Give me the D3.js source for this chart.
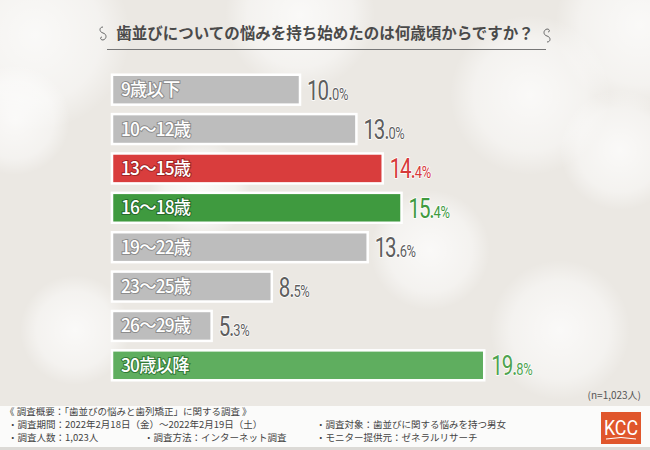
<!DOCTYPE html>
<html>
<head>
<meta charset="utf-8">
<script src="https://cdn.jsdelivr.net/npm/d3@7"></script>
<style>
  html, body { margin: 0; padding: 0; background: #fff; }
  svg { display: block; }
</style>
</head>
<body>
<div id="chart"></div>
<script>
var categories = ["9歳以下", "10〜12歳", "13〜15歳", "16〜18歳", "19〜22歳", "23〜25歳", "26〜29歳", "30歳以降"];
var values = [10.0, 13.0, 14.4, 15.4, 13.6, 8.5, 5.3, 19.8];
var highlight = ["gray", "gray", "red", "green", "gray", "gray", "gray", "lightgreen"];

var title = "歯並びについての悩みを持ち始めたのは何歳頃からですか？";
var sampleNote = "(n=1,023人)";
var footerLines = [
    ["《 調査概要：「歯並びの悩みと歯列矯正」に関する調査 》", 5, 415],
    ["・調査期間：2022年2月18日（金）〜2022年2月19日（土）", 8, 428],
    ["・調査人数：1,023人", 8, 441],
    ["・調査方法：インターネット調査", 144, 441],
    ["・調査対象：歯並びに関する悩みを持つ男女", 316, 428],
    ["・モニター提供元：ゼネラルリサーチ", 316, 441]
];

var palette = {
    gray:       { fill: "#bdbdbd", text: "#5e5e5e", outline: "#8c8c8c" },
    red:        { fill: "#d93d3d", text: "#d63a3a", outline: "#9e2323" },
    green:      { fill: "#3f9a3f", text: "#3f9a3f", outline: "#25692a" },
    lightgreen: { fill: "#5fae5f", text: "#4fa34f", outline: "#327a36" }
};

var width = 650, height = 450;
var jp = "'Noto Sans CJK JP', 'Noto Sans', sans-serif";
var num = "Roboto, 'Noto Sans', sans-serif";

var svg = d3.select("#chart")
    .append("svg")
        .attr("width", width)
        .attr("height", height)
        .attr("xmlns", "http://www.w3.org/2000/svg")

var defs = svg.append("defs")

var glow = defs.append("radialGradient")
    .attr("id", "bokeh")
glow.append("stop").attr("offset", "0%").attr("stop-color", "#fff").style("stop-opacity", 0.75)
glow.append("stop").attr("offset", "70%").attr("stop-color", "#fff").style("stop-opacity", 0.45)
glow.append("stop").attr("offset", "100%").attr("stop-color", "#fff").style("stop-opacity", 0)

// background with soft circles
svg.append("rect")
    .attr("width", width)
    .attr("height", height)
    .attr("fill", "#ebe8e3")

var circles = [[35, 35, 95], [300, 15, 75], [640, 25, 85], [530, 95, 80], [620, 150, 60],
               [15, 120, 55], [75, 330, 55], [560, 330, 70], [430, 250, 60], [200, 190, 50]]
svg.append("g")
    .selectAll("circle")
    .data(circles)
    .join("circle")
        .attr("cx", function(d) { return d[0] })
        .attr("cy", function(d) { return d[1] })
        .attr("r", function(d) { return d[2] })
        .attr("fill", "url(#bokeh)")

// title
svg.append("text")
    .attr("x", 325)
    .attr("y", 39)
    .attr("text-anchor", "middle")
    .attr("font-family", jp)
    .attr("font-weight", "bold")
    .attr("font-size", 15.5)
    .attr("fill", "#4a4a4a")
    .text(title)

svg.append("line")
    .attr("x1", 107).attr("x2", 546)
    .attr("y1", 49.5).attr("y2", 49.5)
    .attr("stroke", "#777")
    .attr("stroke-width", 1)

var ornament = "M0,-7 C-4,-7 -4,-2 0,-1 C4,0 4,5 0,6 C-3,6 -3,3 -1,3"
svg.append("path")
    .attr("d", ornament)
    .attr("transform", "translate(103, 34)")
    .attr("fill", "none").attr("stroke", "#666").attr("stroke-width", 1)
svg.append("path")
    .attr("d", ornament)
    .attr("transform", "translate(547, 35) scale(-1, -1)")
    .attr("fill", "none").attr("stroke", "#666").attr("stroke-width", 1)

// bars
var x = d3.scaleLinear()
    .domain([0, 20])
    .range([112, 488])

var y = d3.scaleBand()
    .domain(categories)
    .range([70, 385])
    .paddingInner(0.24)
    .paddingOuter(0.12)

var rows = svg.append("g")
    .selectAll("g")
    .data(categories)
    .join("g")

rows.append("rect")
    .attr("x", x(0))
    .attr("y", function(d) { return y(d) })
    .attr("width", function(d, i) { return x(values[i]) - x(0) })
    .attr("height", y.bandwidth())
    .attr("fill", function(d, i) { return palette[highlight[i]].fill })
    .attr("stroke", "#fff")
    .attr("stroke-width", 2.5)

rows.append("text")
    .attr("transform", function(d) {
        return "translate(" + (x(0) + 9) + "," + (y(d) + y.bandwidth() / 2 + 6.5) + ") scale(0.96, 1)"
    })
    .attr("font-family", jp)
    .attr("font-weight", 500)
    .attr("font-size", 18)
    .attr("letter-spacing", -0.8)
    .attr("fill", "#fff")
    .attr("stroke", function(d, i) { return palette[highlight[i]].outline })
    .attr("stroke-width", 2)
    .attr("paint-order", "stroke")
    .text(function(d) { return d })

var valueLabels = rows.append("text")
    .attr("transform", function(d, i) {
        return "translate(" + (x(values[i]) + 7) + "," + (y(d) + y.bandwidth() / 2 + 10) + ") scale(0.76, 1)"
    })
    .attr("font-family", num)
    .attr("font-weight", 400)
    .attr("fill", function(d, i) { return palette[highlight[i]].text })
    .attr("stroke", "#fff")
    .attr("stroke-width", 1.6)
    .attr("paint-order", "stroke")

valueLabels.append("tspan")
    .attr("font-size", 27)
    .attr("letter-spacing", -1.5)
    .text(function(d, i) { return values[i].toFixed(1).split(".")[0] + "." })

valueLabels.append("tspan")
    .attr("font-size", 17)
    .attr("letter-spacing", -0.5)
    .text(function(d, i) { return values[i].toFixed(1).split(".")[1] + "%" })

svg.append("text")
    .attr("x", 641)
    .attr("y", 399)
    .attr("text-anchor", "end")
    .attr("font-family", jp)
    .attr("font-size", 10)
    .attr("fill", "#555")
    .text(sampleNote)

// footer
svg.append("rect")
    .attr("x", 0).attr("y", 406)
    .attr("width", width).attr("height", 41)
    .attr("fill", "#fbfbfa")
svg.append("rect")
    .attr("x", 0).attr("y", 447)
    .attr("width", width).attr("height", 3)
    .attr("fill", "#dcdad6")

svg.append("g")
    .selectAll("text")
    .data(footerLines)
    .join("text")
        .attr("x", function(d) { return d[1] })
        .attr("y", function(d) { return d[2] })
        .attr("font-family", jp)
        .attr("font-size", 9.5)
        .attr("fill", "#444")
        .text(function(d) { return d[0] })

var logo = svg.append("g")
    .attr("transform", "translate(601, 412)")
logo.append("rect")
    .attr("width", 40).attr("height", 32)
    .attr("fill", "#e0562c")
logo.append("text")
    .attr("transform", "translate(20, 23) scale(0.85, 1)")
    .attr("text-anchor", "middle")
    .attr("font-family", num)
    .attr("font-size", 21)
    .attr("fill", "#fff")
    .text("KCC")
logo.append("path")
    .attr("d", "M5,27 Q20,24 35,27")
    .attr("fill", "none").attr("stroke", "#fff").attr("stroke-width", 1)
</script>
</body>
</html>
